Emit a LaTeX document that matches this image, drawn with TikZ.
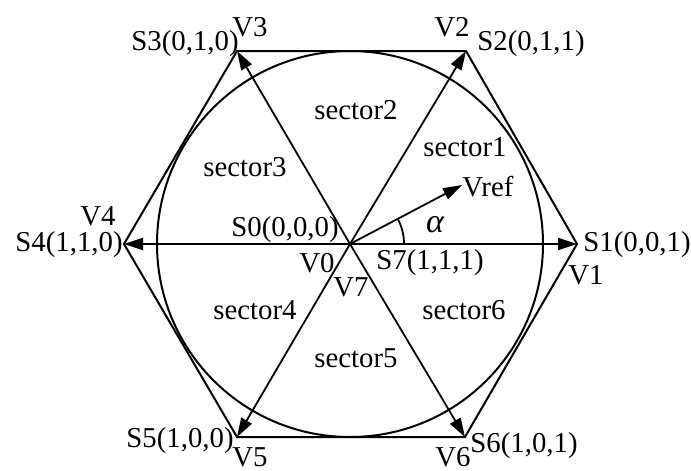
\documentclass[tikz,border=0pt]{standalone}
\usepackage{fontspec}
\setmainfont{Liberation Serif}
\usetikzlibrary{arrows.meta, calc}

\tikzset{
  vec/.style={line width=0.9pt, -{Triangle[length=9.5pt, width=6pt]}},
  edge/.style={line width=1pt},
  lbl/.style={inner sep=0pt, font=\fontsize{14.4}{16}\selectfont},
}

\begin{document}
\begin{tikzpicture}[x=0.5pt, y=-0.5pt]
    \useasboundingbox (0,0) rectangle (691,471);

    % centre and the six corners
    \coordinate (O) at (350,244);
    \coordinate (s1) at (577,244);
    \coordinate (s2) at (466,51);
    \coordinate (s3) at (237,51);
    \coordinate (s4) at (124,244);
    \coordinate (s5) at (237,437);
    \coordinate (s6) at (465,437);

    \draw[edge] (s1) -- (s2) -- (s3) -- (s4) -- (s5) -- (s6) -- cycle;
    \draw[edge] (O) circle[radius=193];

    \foreach \k in {1,...,6}
      \draw[vec] (O) -- (s\k);

    % reference vector and its angle
    \coordinate (vr) at (462,185);
    \draw[vec] (O) -- (vr);
    \draw[line width=0.9pt] ($(O)+(54,0)$) arc[start angle=0, end angle=-27.8, radius=54];

    % corner labels
    \node[lbl] (l3) at (185,44) {S3(0,1,0)};
    \node[lbl] (v3) at (250,27) {V3};
    \node[lbl] (v2) at (452,27) {V2};
    \node[lbl] (l2) at (531,44) {S2(0,1,1)};
    \node[lbl] (v4) at (98,216) {V4};
    \node[lbl] (l4) at (69,245) {S4(1,1,0)};
    \node[lbl] (l1) at (637,245) {S1(0,0,1)};
    \node[lbl] (v1) at (586,275) {V1};
    \node[lbl] (l5) at (180,441) {S5(1,0,0)};
    \node[lbl] (v5) at (250,457) {V5};
    \node[lbl] (v6) at (453,457) {V6};
    \node[lbl] (l6) at (524,446) {S6(1,0,1)};

    % centre labels
    \node[lbl] (l0) at (285,230) {S0(0,0,0)};
    \node[lbl] (v0) at (317,263) {V0};
    \node[lbl] (v7) at (351,287) {V7};
    \node[lbl] (l7) at (430,263) {S7(1,1,1)};
    \node[lbl, anchor=west] (vref) at (462,187) {Vref};
    \node[lbl, font=\fontsize{17}{18}\selectfont\itshape] (al) at (435,225) {α};

    % sectors
    \node[lbl] (sc1) at (465,147) {sector1};
    \node[lbl] (sc2) at (356,110) {sector2};
    \node[lbl] (sc3) at (245,167) {sector3};
    \node[lbl] (sc4) at (255,310) {sector4};
    \node[lbl] (sc5) at (356,358) {sector5};
    \node[lbl] (sc6) at (464,310) {sector6};
\end{tikzpicture}
\end{document}
